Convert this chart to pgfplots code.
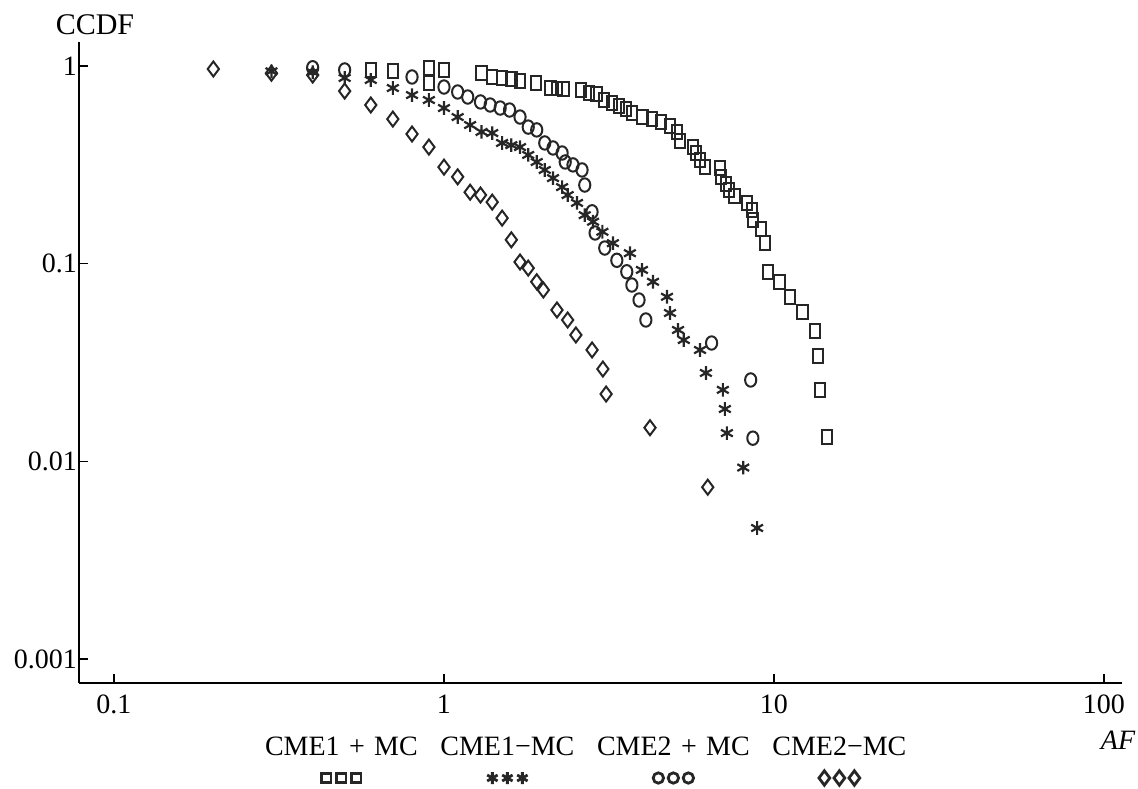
\documentclass[border=0pt]{standalone}
\usepackage{fontspec}
\setmainfont{Liberation Serif}
\usepackage{pgfplots}
\pgfplotsset{compat=1.18}

\newcommand{\fs}{\fontsize{14}{16.5}\selectfont}

\begin{document}
\begin{tikzpicture}[font=\fs]
% page = 1138 x 788 px, 1 px = 0.5pt, axis box lower-left at (0,0)
\path[use as bounding box] (-39.5pt,-52.5pt) rectangle (529.5pt,341.5pt);
\begin{axis}[
  at={(0,0)}, anchor=south west,
  scale only axis,
  width=521.5pt, height=320.5pt,
  xmode=log, ymode=log,
  xmin=0.07834, xmax=113.4,
  ymin=0.0007561, ymax=1.3225,
  axis lines=left,
  axis line style={-, line width=0.6pt, black},
  xtick={0.1,1,10,100},
  xticklabels={0.1,1,10,100},
  ytick={0.001,0.01,0.1,1},
  yticklabels={0.001,0.01,0.1,1},
  xminorticks=false, yminorticks=false,
  tick align=inside,
  major tick length=4.5pt,
  tick style={line width=0.6pt, black},
  tick label style={font=\fs},
  xticklabel style={yshift=-2.5pt},
  yticklabel style={xshift=2.5pt},
  clip=false,
  legend columns=4,
  legend style={at={(rel axis cs:0.1716,-0.1014)}, anchor=west,
                draw=none, fill=none, inner sep=0pt, column sep=0pt,
                font=\fs,
                nodes={text width=83pt, align=center, inner sep=0pt}},
]
\pgfplotsset{
  dmark/.style={only marks, draw=black!85, line width=1pt},
  legkey/.style={legend image code/.code={%
    \draw[overlay, mark size=#1,
          mark options={line width=1.4pt, draw=black!85, solid}]
      plot[only marks] coordinates {(34pt,-15pt) (41.5pt,-15pt) (49pt,-15pt)};}},
}

% CME1 + MC
\addplot[dmark, mark=square, mark size=2.6pt,
  mark options={yscale=1.3, fill=none},
  legkey=2.3pt] coordinates {
  (0.6,0.955) (0.7,0.943) (0.9,0.977) (0.9,0.82) (1.0,0.955)
  (1.3,0.922) (1.4,0.88) (1.5,0.87) (1.6,0.86) (1.7,0.84) (1.9,0.82)
  (2.1,0.774) (2.2,0.77) (2.3,0.765) (2.6,0.756) (2.75,0.73) (2.9,0.72)
  (3.05,0.673) (3.23,0.65) (3.39,0.628) (3.56,0.606) (3.71,0.578)
  (4.0,0.552) (4.27,0.54) (4.54,0.521) (4.84,0.497) (5.08,0.464)
  (5.19,0.418) (5.69,0.389) (5.8,0.363) (5.97,0.335) (6.17,0.308)
  (6.85,0.305) (6.9,0.275) (7.16,0.253) (7.3,0.236) (7.6,0.22)
  (8.27,0.203) (8.57,0.187) (8.63,0.166) (9.13,0.15) (9.38,0.127)
  (9.59,0.0908) (10.4,0.0808) (11.2,0.0679) (12.2,0.057) (13.3,0.0457)
  (13.6,0.0341) (13.8,0.023) (14.5,0.0133)
};
\addlegendentry{CME1 + MC}

% CME1-MC
\addplot[dmark, mark=asterisk, mark size=3.4pt, line width=1.1pt,
  legkey=3pt] coordinates {
  (0.3,0.94) (0.4,0.93) (0.5,0.87) (0.6,0.85) (0.7,0.774) (0.8,0.713)
  (0.9,0.673) (1.0,0.613) (1.1,0.552) (1.2,0.503) (1.3,0.464) (1.4,0.458)
  (1.5,0.408) (1.6,0.398) (1.7,0.389) (1.8,0.355) (1.91,0.327) (2.02,0.298)
  (2.14,0.271) (2.28,0.244) (2.37,0.2225) (2.53,0.203) (2.67,0.176)
  (2.83,0.163) (3.02,0.145) (3.25,0.127) (3.66,0.113) (3.98,0.093)
  (4.3,0.081) (4.74,0.068) (4.84,0.0563) (5.12,0.0462) (5.33,0.0411)
  (5.97,0.0366) (6.22,0.028) (7.0,0.023) (7.1,0.0184) (7.2,0.0139)
  (8.07,0.0093) (8.89,0.0046)
};
\addlegendentry{CME1−MC}

% CME2 + MC
\addplot[dmark, mark=o, mark size=2.8pt,
  mark options={yscale=1.2},
  legkey=2.6pt] coordinates {
  (0.4,0.98) (0.5,0.955) (0.8,0.88) (1.0,0.783) (1.1,0.739) (1.18,0.697)
  (1.29,0.658) (1.38,0.635) (1.48,0.613) (1.58,0.599) (1.7,0.552)
  (1.8,0.491) (1.91,0.475) (2.02,0.408) (2.14,0.385) (2.28,0.363)
  (2.33,0.327) (2.46,0.316) (2.62,0.298) (2.67,0.25) (2.81,0.183)
  (2.87,0.143) (3.07,0.12) (3.34,0.104) (3.58,0.091) (3.71,0.078)
  (3.9,0.0655) (4.09,0.0519) (6.47,0.0397) (8.5,0.0258) (8.63,0.0131)
};
\addlegendentry{CME2 + MC}

% CME2-MC
\addplot[dmark, mark=diamond, mark size=3.75pt,
  legkey=3.6pt] coordinates {
  (0.2,0.966) (0.3,0.92) (0.4,0.9) (0.5,0.747) (0.6,0.635) (0.7,0.539)
  (0.8,0.453) (0.9,0.389) (1.0,0.308) (1.1,0.275) (1.2,0.23) (1.29,0.2225)
  (1.4,0.205) (1.5,0.17) (1.6,0.132) (1.7,0.102) (1.8,0.095) (1.91,0.081)
  (2.0,0.0736) (2.2,0.0583) (2.37,0.0519) (2.51,0.0436) (2.81,0.0366)
  (3.03,0.0293) (3.1,0.0219) (4.21,0.0148) (6.3,0.0074)
};
\addlegendentry{CME2−MC}

\node[font=\fontsize{15}{18}\selectfont] at (rel axis cs:0.0153,1.0265) {CCDF};
\node[font=\fs\itshape] at (rel axis cs:0.9962,-0.0889) {AF};
\end{axis}
\end{tikzpicture}
\end{document}
